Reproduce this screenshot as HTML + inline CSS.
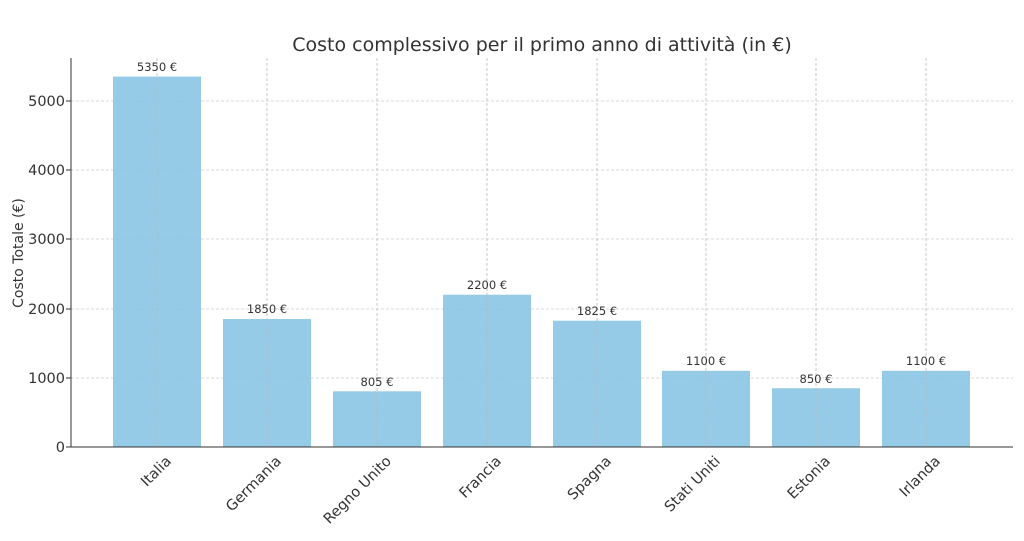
<!DOCTYPE html>
<html><head><meta charset="utf-8"><style>
html,body{margin:0;padding:0;background:#fff;}
svg{display:block;font-family:"DejaVu Sans","Liberation Sans",sans-serif;}
</style></head><body>
<svg width="1024" height="541" viewBox="0 0 1024 541" xmlns="http://www.w3.org/2000/svg">
<rect width="1024" height="541" fill="#fff"/>
<text x="542" y="51" text-anchor="middle" font-size="19" fill="#333">Costo complessivo per il primo anno di attività (in €)</text>
<g stroke="#ccc" stroke-width="0.8" stroke-dasharray="3,2">
<line x1="71" x2="1013" y1="378" y2="378"/>
<line x1="71" x2="1013" y1="309" y2="309"/>
<line x1="71" x2="1013" y1="239" y2="239"/>
<line x1="71" x2="1013" y1="170" y2="170"/>
<line x1="71" x2="1013" y1="101" y2="101"/>
</g>
<g fill="#87c4e4" fill-opacity="0.88">
<rect x="113" y="76.6" width="88" height="370.4"/>
<rect x="223" y="319" width="88" height="128"/>
<rect x="333" y="391.3" width="88" height="55.7"/>
<rect x="443" y="294.7" width="88" height="152.3"/>
<rect x="553" y="320.7" width="88" height="126.3"/>
<rect x="662" y="370.8" width="88" height="76.2"/>
<rect x="772" y="388.2" width="88" height="58.8"/>
<rect x="882" y="370.8" width="88" height="76.2"/>
</g>
<g stroke="#bbb" stroke-width="0.8" stroke-dasharray="3,2">
<line x1="157" x2="157" y1="58" y2="447"/><line x1="267" x2="267" y1="58" y2="447"/>
<line x1="377" x2="377" y1="58" y2="447"/><line x1="487" x2="487" y1="58" y2="447"/>
<line x1="597" x2="597" y1="58" y2="447"/><line x1="706" x2="706" y1="58" y2="447"/>
<line x1="816" x2="816" y1="58" y2="447"/><line x1="926" x2="926" y1="58" y2="447"/>
</g>
<g font-size="11.5" fill="#333" text-anchor="middle">
<text x="157" y="71">5350 €</text><text x="267" y="313">1850 €</text>
<text x="377" y="386">805 €</text><text x="487" y="289">2200 €</text>
<text x="597" y="315">1825 €</text><text x="706" y="365">1100 €</text>
<text x="816" y="383">850 €</text><text x="926" y="365">1100 €</text>
</g>
<line x1="71" x2="71" y1="58" y2="447" stroke="#333" stroke-width="1"/>
<line x1="71" x2="1013" y1="447" y2="447" stroke="#333" stroke-width="1"/>
<g stroke="#333"><line x1="66" x2="71" y1="447" y2="447"/><line x1="66" x2="71" y1="378" y2="378"/><line x1="66" x2="71" y1="309" y2="309"/><line x1="66" x2="71" y1="239" y2="239"/><line x1="66" x2="71" y1="170" y2="170"/><line x1="66" x2="71" y1="101" y2="101"/></g>
<g font-size="14.5" fill="#333" text-anchor="end">
<text x="65" y="452">0</text><text x="65" y="383">1000</text><text x="65" y="314">2000</text>
<text x="65" y="244">3000</text><text x="65" y="175">4000</text><text x="65" y="106">5000</text>
</g>
<text transform="translate(23,253) rotate(-90)" text-anchor="middle" font-size="14" fill="#333">Costo Totale (€)</text>
<g font-size="14.5" fill="#333" text-anchor="end">
<text transform="translate(172,462) rotate(-45)">Italia</text>
<text transform="translate(282,462) rotate(-45)">Germania</text>
<text transform="translate(392,462) rotate(-45)">Regno Unito</text>
<text transform="translate(502,462) rotate(-45)">Francia</text>
<text transform="translate(612,462) rotate(-45)">Spagna</text>
<text transform="translate(721,462) rotate(-45)">Stati Uniti</text>
<text transform="translate(831,462) rotate(-45)">Estonia</text>
<text transform="translate(941,462) rotate(-45)">Irlanda</text>
</g>
</svg>
</body></html>
